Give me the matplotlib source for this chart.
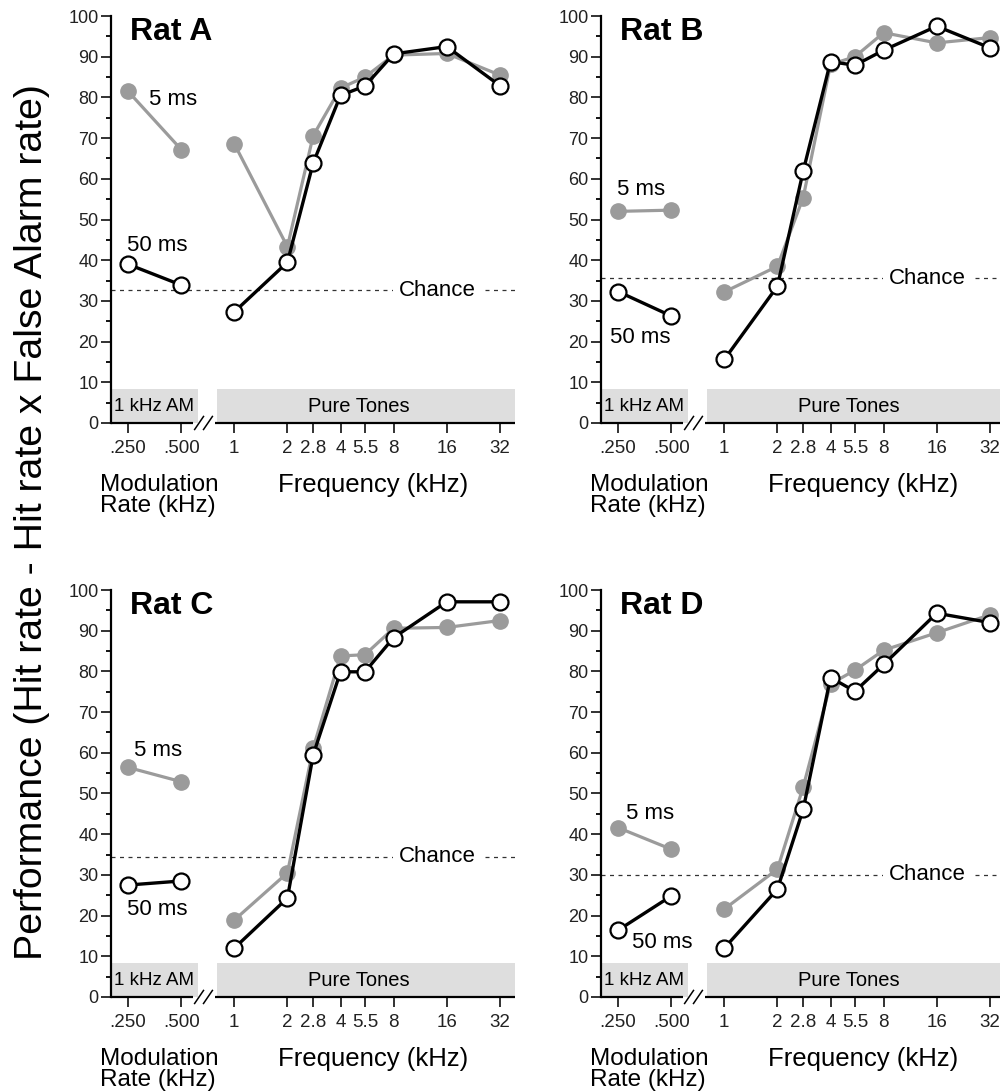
import numpy as np
import matplotlib
matplotlib.use("Agg")
import matplotlib.pyplot as plt
from matplotlib.patches import Rectangle
from matplotlib.ticker import FixedLocator, NullLocator, MultipleLocator

plt.rcParams['font.family'] = ['Liberation Sans', 'DejaVu Sans']

# x values: AM modulation rates and pure-tone frequencies (kHz)
am_rates = [0.25, 0.5]
am_labels = ['.250', '.500']
tone_freqs = [1, 2, 2.8, 4, 5.5, 8, 16, 32]
tone_labels = ['1', '2', '2.8', '4', '5.5', '8', '16', '32']

rats = ['Rat A', 'Rat B', 'Rat C', 'Rat D']

# performance, one row per rat
am_5ms = [[81.5, 67.2], [52.0, 52.3], [56.4, 52.9], [41.6, 36.3]]
am_50ms = [[39.0, 33.9], [32.3, 26.3], [27.5, 28.5], [16.4, 24.8]]
tone_5ms = [
    [68.6, 43.3, 70.6, 82.3, 85.0, 90.4, 90.8, 85.5],
    [32.2, 38.5, 55.4, 88.1, 90.0, 95.9, 93.4, 94.7],
    [18.9, 30.5, 61.1, 83.8, 84.1, 90.6, 90.8, 92.5],
    [21.6, 31.4, 51.6, 76.9, 80.3, 85.2, 89.5, 93.9],
]
tone_50ms = [
    [27.3, 39.5, 63.9, 80.5, 82.8, 90.7, 92.5, 82.9],
    [15.6, 33.6, 61.9, 88.8, 87.9, 91.6, 97.5, 92.2],
    [12.0, 24.3, 59.5, 79.9, 79.9, 88.3, 97.1, 97.1],
    [12.0, 26.5, 46.1, 78.5, 75.1, 81.7, 94.3, 92.0],
]
chance = [32.6, 35.6, 34.5, 30.0]

# where the "5 ms" / "50 ms" tags sit (x in kHz, y in %)
tag_5ms = [(0.449, 79.4), (0.337, 57.3), (0.369, 60.5), (0.379, 45.1)]
tag_50ms = [(0.365, 43.6), (0.335, 20.9), (0.365, 21.4), (0.445, 13.3)]

GRAY = '#9b9b9b'
BOX = '#dedede'

fig = plt.figure(figsize=(10, 10.91), dpi=100)
rects = [
    [0.111, 0.6123, 0.404, 0.373],
    [0.601, 0.6123, 0.404, 0.373],
    [0.111, 0.0862, 0.404, 0.373],
    [0.601, 0.0862, 0.404, 0.373],
]

for i, name in enumerate(rats):
    ax = fig.add_axes(rects[i])
    ax.set_xscale('log', base=2)
    ax.set_xlim(0.2, 39)
    ax.set_ylim(0, 100)

    # stimulus-class boxes along the bottom
    ax.add_patch(Rectangle((0.2, 0), 0.622 - 0.2, 8.3, facecolor=BOX,
                           edgecolor='none', zorder=0))
    ax.add_patch(Rectangle((0.8, 0), 39 - 0.8, 8.3, facecolor=BOX,
                           edgecolor='none', zorder=0))
    ax.text(0.3525, 4.0, '1 kHz AM', ha='center', va='center', fontsize=13.5)
    ax.text(5.1, 4.0, 'Pure Tones', ha='center', va='center', fontsize=14.5)

    # chance level
    ax.axhline(chance[i], color='#333333', lw=0.9, linestyle=(0, (3.2, 3.6)),
               zorder=1)
    ax.text(0.808, chance[i], 'Chance', transform=ax.get_yaxis_transform(),
            ha='center', va='center', fontsize=16,
            bbox=dict(facecolor='white', edgecolor='none', pad=4), zorder=2)

    # 5 ms (gray) under 50 ms (black/white)
    for xs, ys in [(am_rates, am_5ms[i]), (tone_freqs, tone_5ms[i])]:
        ax.plot(xs, ys, color=GRAY, lw=2.3, marker='o', markersize=11,
                markerfacecolor=GRAY, markeredgecolor=GRAY, zorder=3,
                clip_on=False)
    for xs, ys in [(am_rates, am_50ms[i]), (tone_freqs, tone_50ms[i])]:
        ax.plot(xs, ys, color='black', lw=2.4, marker='o', markersize=11.5,
                markerfacecolor='white', markeredgecolor='black',
                markeredgewidth=1.6, zorder=4, clip_on=False)

    ax.text(*tag_5ms[i], '5 ms', ha='center', va='center', fontsize=16)
    ax.text(*tag_50ms[i], '50 ms', ha='center', va='center', fontsize=16)

    ax.text(0.047, 0.941, name, transform=ax.transAxes, fontsize=23,
            fontweight='bold', va='baseline', ha='left')

    # axes styling
    for side in ['top', 'right', 'bottom']:
        ax.spines[side].set_visible(False)
    ax.spines['left'].set_linewidth(1.6)
    ax.yaxis.set_major_locator(MultipleLocator(10))
    ax.yaxis.set_minor_locator(MultipleLocator(5))
    ax.tick_params(axis='y', which='major', length=7, width=1.3,
                   labelsize=13, pad=2, colors='#222222')
    ax.tick_params(axis='y', which='minor', length=3.5, width=1.3)

    ax.xaxis.set_major_locator(FixedLocator(am_rates + tone_freqs))
    ax.xaxis.set_minor_locator(NullLocator())
    ax.set_xticklabels(am_labels + tone_labels)
    ax.tick_params(axis='x', which='major', length=7, width=1.3,
                   labelsize=13.5, pad=5, colors='#222222')

    # broken x axis line
    axis_kw = dict(transform=ax.transAxes, color='black', lw=1.6,
                   clip_on=False, solid_capstyle='butt')
    ax.plot([0, 0.203], [0, 0], **axis_kw)
    ax.plot([0.257, 1], [0, 0], **axis_kw)
    for cx in [0.218, 0.240]:
        ax.plot([cx - 0.011, cx + 0.011], [-0.016, 0.016],
                transform=ax.transAxes, color='black', lw=1.1, clip_on=False)

    ax.text(-0.027, -0.178, 'Modulation\nRate (kHz)', transform=ax.transAxes,
            ha='left', va='center', fontsize=17.5, linespacing=0.9)
    ax.text(0.649, -0.152, 'Frequency (kHz)', transform=ax.transAxes,
            ha='center', va='center', fontsize=18.5)

fig.text(0.032, 1 - 522 / 1091,
         'Performance (Hit rate - Hit rate x False Alarm rate)',
         rotation=90, ha='center', va='center', fontsize=28.3)

fig.savefig('out.png', dpi=100)
